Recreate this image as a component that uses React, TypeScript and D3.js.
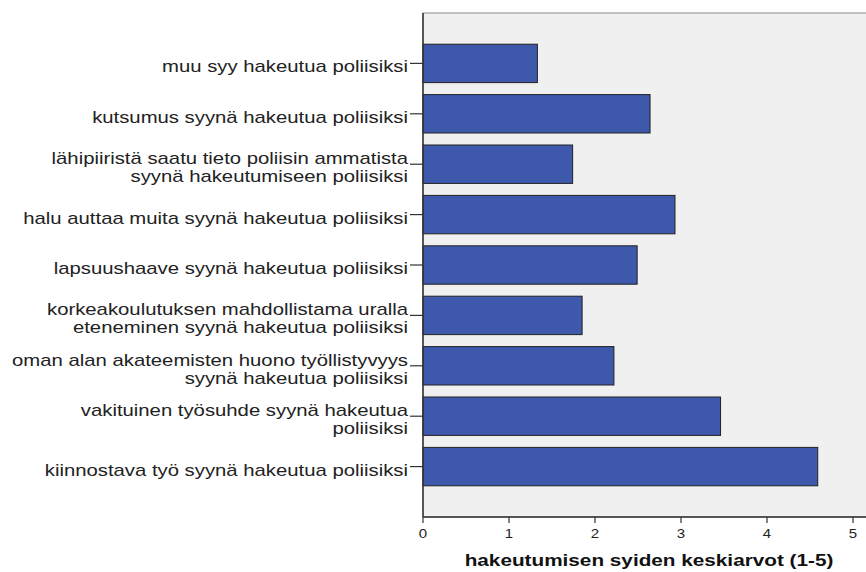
import React from "react";
import * as d3 from "d3";

const categories: string[][] = [
  ["muu syy hakeutua poliisiksi"],
  ["kutsumus syynä hakeutua poliisiksi"],
  ["lähipiiristä saatu tieto poliisin ammatista", "syynä hakeutumiseen poliisiksi"],
  ["halu auttaa muita syynä hakeutua poliisiksi"],
  ["lapsuushaave syynä hakeutua poliisiksi"],
  ["korkeakoulutuksen mahdollistama uralla", "eteneminen syynä hakeutua poliisiksi"],
  ["oman alan akateemisten huono työllistyvyys", "syynä hakeutua poliisiksi"],
  ["vakituinen työsuhde syynä hakeutua", "poliisiksi"],
  ["kiinnostava työ syynä hakeutua poliisiksi"],
];
const values: number[] = [1.33, 2.64, 1.74, 2.93, 2.49, 1.85, 2.22, 3.46, 4.59];
const xTicks: number[] = [0, 1, 2, 3, 4, 5];
const xTitle = "hakeutumisen syiden keskiarvot (1-5)";

export default function App() {
  const W = 866, H = 572;
  const left = 423, top = 13, bottom = 517, right = 880;
  const x = d3.scaleLinear().domain([0, 5]).range([left, 853]);
  const y = d3
    .scaleBand<number>()
    .domain(d3.range(values.length))
    .range([top, bottom])
    .paddingInner(0.238)
    .paddingOuter(0.619);
  const bw = y.bandwidth();
  const font = "'Liberation Sans', Arial, sans-serif";
  const sx = 1.27;
  return (
    <svg width={W} height={H} style={{ position: "absolute", left: 0, top: 0, background: "#fff" }}>
      <rect x={left} y={top} width={right - left} height={bottom - top} fill="#f0f0f0" stroke="#8a8a8a" strokeWidth={1} />
      {values.map((v, i) => (
        <rect
          key={i}
          x={x(0)}
          y={y(i)!}
          width={x(v) - x(0)}
          height={bw}
          fill="#3e58ac"
          stroke="#222"
          strokeWidth={1}
        />
      ))}
      {/* y axis */}
      <line x1={left} x2={left} y1={top} y2={bottom} stroke="#333" strokeWidth={1.5} />
      {categories.map((lines, i) => {
        const c = y(i)! + bw / 2;
        const n = lines.length;
        return (
          <g key={i}>
            <line x1={410} x2={left} y1={c} y2={c} stroke="#333" strokeWidth={1.2} />
            {lines.map((ln, j) => (
              <text
                key={j}
                transform={`translate(408, ${c + 9 + (j - (n - 1) / 2) * 18}) scale(${sx},1)`}
                textAnchor="end"
                fontFamily={font}
                fontSize={16}
                fill="#222"
              >
                {ln}
              </text>
            ))}
          </g>
        );
      })}
      {/* x axis */}
      <line x1={left} x2={right} y1={bottom} y2={bottom} stroke="#333" strokeWidth={1.5} />
      {xTicks.map((t) => (
        <g key={t}>
          <line x1={x(t)} x2={x(t)} y1={bottom} y2={bottom + 6} stroke="#333" strokeWidth={1.2} />
          <text
            transform={`translate(${x(t)}, 537.5) scale(1.2,1)`}
            textAnchor="middle"
            fontFamily={font}
            fontSize={12.5}
            fill="#222"
          >
            {t}
          </text>
        </g>
      ))}
      <text
        transform={`translate(649, 566) scale(1.22,1)`}
        textAnchor="middle"
        fontFamily={font}
        fontSize={17}
        fontWeight="bold"
        fill="#111"
      >
        {xTitle}
      </text>
    </svg>
  );
}
